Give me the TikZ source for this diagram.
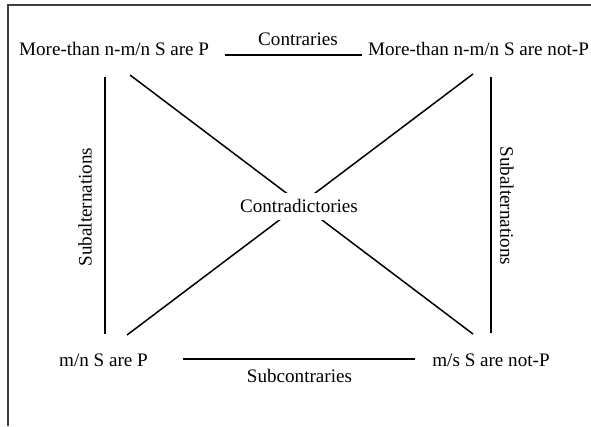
\documentclass[tikz,border=0pt]{standalone}
\usepackage{fontspec}
\setmainfont{Liberation Serif}
\begin{document}
\begin{tikzpicture}[x=1pt,y=1pt,
  lbl/.style={inner sep=0pt, font=\fontsize{19.1}{22}\selectfont},
  conn/.style={line width=1.5pt, black},
  frame/.style={line width=1.3pt, black!75}]
\useasboundingbox (0,0) rectangle (591,426);
% frame (top and left edges)
\draw[frame] (8,0) -- (8,421) -- (591,421);
% statements
\node[lbl, anchor=base west] (A) at (19,370) {More-than n-m/n S are P};
\node[lbl, anchor=base west] (B) at (368,370) {More-than n-m/n S are not-P};
\node[lbl, anchor=base] (C) at (103.5,60) {m/n S are P};
\node[lbl, anchor=base] (D) at (491,60) {m/s S are not-P};
% connector end points
\coordinate (tl) at (225,371);
\coordinate (tr) at (362,371);
\coordinate (bl) at (183,67);
\coordinate (br) at (415,67);
\coordinate (lt) at (105,349);
\coordinate (lb) at (105,92);
\coordinate (rt) at (491,349);
\coordinate (rb) at (491,93);
\coordinate (d1a) at (130,351);
\coordinate (d1b) at (473,92);
\coordinate (d2a) at (473,352);
\coordinate (d2b) at (127,91);
% connectors
\draw[conn] (tl) -- (tr);
\draw[conn] (bl) -- (br);
\draw[conn] (lt) -- (lb);
\draw[conn] (rt) -- (rb);
\draw[conn] (d1a) -- (d1b);
\draw[conn] (d2a) -- (d2b);
% relation labels
\node[lbl, anchor=base] (con) at (298,380) {Contraries};
\node[lbl, anchor=base] (sub) at (299.5,44) {Subcontraries};
\node[lbl, anchor=base, fill=white, inner xsep=3pt, inner ysep=7pt] (ctr) at (299,213) {\phantom{Contradictories}};
\node[lbl, anchor=base] (ctrt) at (299,213) {Contradictories};
\node[lbl, rotate=90] (sal) at (85,219) {Subalternations};
\node[lbl, rotate=-90] (sar) at (507,220) {Subalternations};
\end{tikzpicture}
\end{document}
